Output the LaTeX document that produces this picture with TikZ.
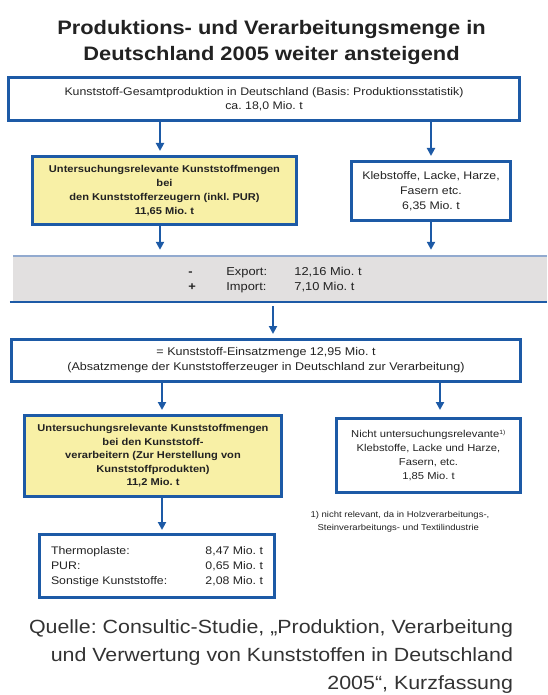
\documentclass[tikz,border=0pt]{standalone}
\usepackage{fontspec}
\setmainfont{Liberation Sans}[FakeStretch=1.12]
\usepackage{xcolor}
\usetikzlibrary{arrows.meta, calc, positioning}
\definecolor{boxblue}{HTML}{1D5AA6}
\definecolor{boxyellow}{HTML}{F8F0A6}
\definecolor{bandgray}{HTML}{E2E0E0}
\definecolor{bandtop}{HTML}{92AACF}
\definecolor{textgray}{HTML}{222222}
\definecolor{srcgray}{HTML}{333333}
\frenchspacing

\begin{document}
\begin{tikzpicture}[x=1pt, y=-1pt]
	\tikzstyle{bluebox}=[rectangle, draw=boxblue, line width=3pt, inner sep=0pt, align=center, text=textgray, font=\fontsize{11}{14}\selectfont]
	\tikzstyle{yelbox}=[bluebox, fill=boxyellow, font=\bfseries\fontsize{9.9}{14}\selectfont]
	\tikzstyle{arr}=[draw=boxblue, line width=2pt, -{Triangle[width=8pt,length=8pt]}, shorten >=4pt]
	\useasboundingbox (0,0) rectangle (547,695);

	\node (title) at (271.5,42.5) [align=center, text=textgray, font=\bfseries\fontsize{19.5}{26}\selectfont]{Produktions- und Verarbeitungsmenge in\\Deutschland 2005 weiter ansteigend};

	\node (prod) at (264,99) [bluebox, minimum width=511, minimum height=43]{Kunststoff-Gesamtproduktion in Deutschland (Basis: Produktionsstatistik)\\ca. 18,0 Mio. t};
	\node (yel1) at (164.5,190.5) [yelbox, minimum width=264, minimum height=68]{Untersuchungsrelevante Kunststoffmengen\\bei\\den Kunststofferzeugern (inkl. PUR)\\11,65 Mio. t};
	\node (kleb1) at (431,191) [bluebox, minimum width=159, minimum height=59, font=\fontsize{11}{15}\selectfont]{Klebstoffe, Lacke, Harze,\\Fasern etc.\\6,35 Mio. t};

	\node (band) at (280,279) [rectangle, fill=bandgray, minimum width=534, minimum height=46, inner sep=0pt]{};
	\draw[bandtop, line width=2pt] (band.north west) -- (band.north east);
	\draw[boxblue, line width=1.5pt] ([xshift=-3pt]band.south west) -- (band.south east);
	\node (trade) at (275,280) [text=textgray, font=\fontsize{11.5}{15}\selectfont]{\begin{tabular}{@{}p{38pt}@{}p{68pt}@{}l@{}}
		\textbf{-} & Export: & 12,16 Mio. t\\
		\textbf{+} & Import: & 7,10 Mio. t
	\end{tabular}};

	\node (einsatz) at (266,360.5) [bluebox, minimum width=509, minimum height=42, font=\fontsize{11.2}{15}\selectfont]{= Kunststoff-Einsatzmenge 12,95 Mio. t\\(Absatzmenge der Kunststofferzeuger in Deutschland zur Verarbeitung)};
	\node (yel2) at (153,456) [yelbox, minimum width=257, minimum height=81, font=\bfseries\fontsize{9.9}{13.5}\selectfont]{Untersuchungsrelevante Kunststoffmengen\\bei den Kunststoff-\\verarbeitern (Zur Herstellung von\\Kunststoffprodukten)\\11,2 Mio. t};
	\node (kleb2) at (428.5,455.5) [bluebox, minimum width=184, minimum height=74, font=\fontsize{10}{14}\selectfont]{Nicht untersuchungsrelevante\textsuperscript{\fontsize{6}{6}\selectfont 1)}\\Klebstoffe, Lacke und Harze,\\Fasern, etc.\\1,85 Mio. t};

	\node (sorten) at (157,566) [bluebox, minimum width=235, minimum height=63, font=\fontsize{11}{15}\selectfont]{\begin{tabular*}{212pt}{@{}l@{\extracolsep{\fill}}r@{}}
		Thermoplaste: & 8,47 Mio. t\\
		PUR: & 0,65 Mio. t\\
		Sonstige Kunststoffe: & 2,08 Mio. t
	\end{tabular*}};

	\node (fn) at (307,522) [anchor=west, align=left, text=textgray, font=\fontsize{8.5}{13}\selectfont]{1) nicht relevant, da in Holzverarbeitungs-,\\\hspace*{7pt}Steinverarbeitungs- und Textilindustrie};

	\node (quelle) at (516.5,657) [anchor=east, align=right, text=srcgray, font=\fontsize{19.1}{28}\selectfont]{Quelle: Consultic-Studie, „Produktion, Verarbeitung\\und Verwertung von Kunststoffen in Deutschland\\2005“, Kurzfassung};

	\coordinate (c1) at ($(yel1.north)+(-4.5,0)$);
	\coordinate (c2) at ($(einsatz.north)+(7,0)$);
	\coordinate (c3) at ($(yel2.north)+(9,0)$);
	\coordinate (c4) at ($(kleb2.north)+(11.5,0)$);
	\draw[arr] (c1 |- prod.south) -- (c1);
	\draw[arr] (kleb1.north |- prod.south) -- (kleb1.north);
	\draw[arr, shorten >=6pt] (c1 |- yel1.south) -- (c1 |- band.north);
	\draw[arr, shorten >=6pt] (kleb1.south) -- (kleb1.south |- band.north);
	\draw[arr, shorten <=4pt] (c2 |- band.south) -- (c2);
	\draw[arr] (c3 |- einsatz.south) -- (c3);
	\draw[arr, shorten >=7pt] (c4 |- einsatz.south) -- (c4);
	\draw[arr, shorten >=3pt] (c3 |- yel2.south) -- (c3 |- sorten.north);
\end{tikzpicture}
\end{document}
